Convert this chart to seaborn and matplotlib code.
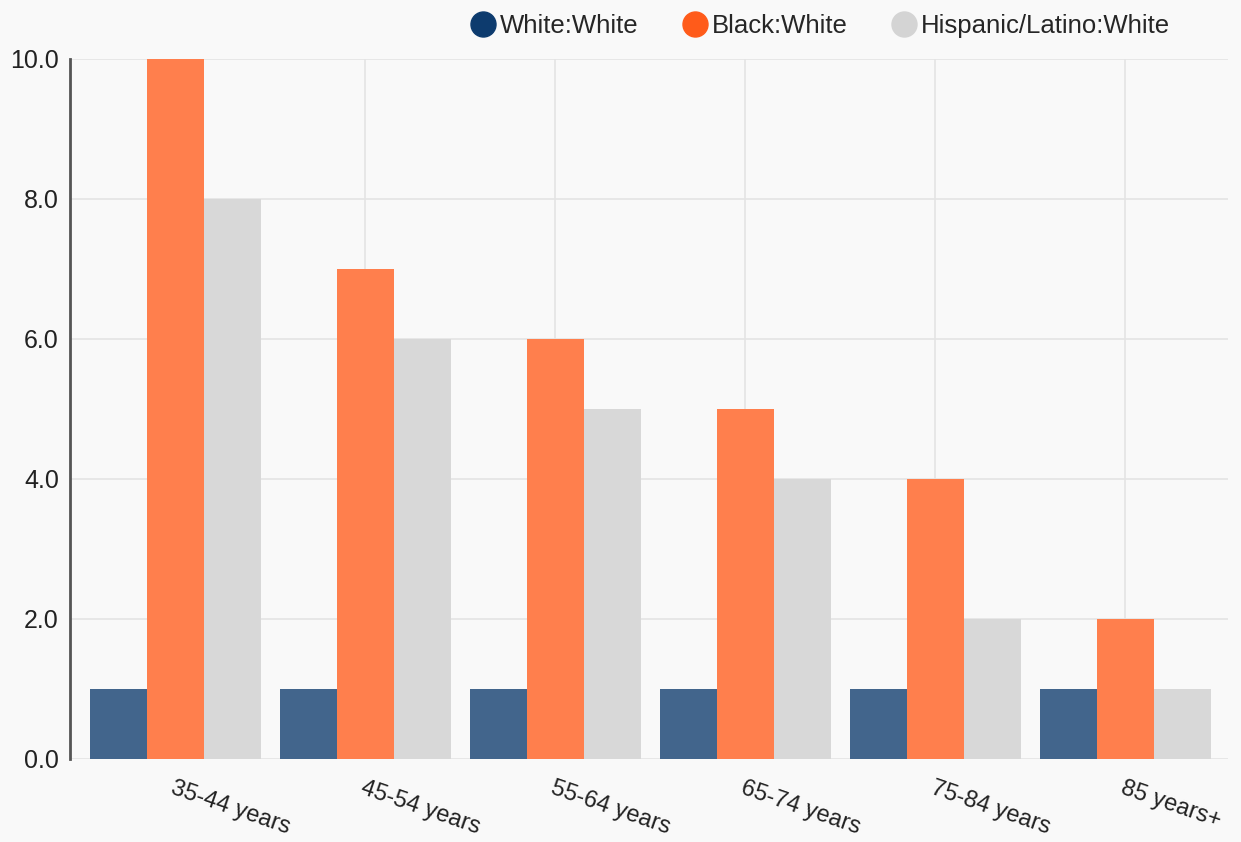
import numpy as np
import pandas as pd
import seaborn as sns
import matplotlib
matplotlib.use("Agg")
import matplotlib.pyplot as plt
from matplotlib.lines import Line2D

categories = ["35-44 years", "45-54 years", "55-64 years", "65-74 years", "75-84 years", "85 years+"]
series_names = ["White:White", "Black:White", "Hispanic/Latino:White"]
white_white = [1, 1, 1, 1, 1, 1]
black_white = [10, 7, 6, 5, 4, 2]
hispanic_white = [8, 6, 5, 4, 2, 1]
y_ticks = [0, 2, 4, 6, 8, 10]

legend_colors = ["#0d3b6e", "#ff5b1a", "#d4d4d4"]
bar_colors = ["#42658c", "#ff7f4d", "#d8d8d8"]

rows = []
for name, vals in zip(series_names, [white_white, black_white, hispanic_white]):
    for c, v in zip(categories, vals):
        rows.append({"age": c, "series": name, "value": v})
df = pd.DataFrame(rows)

sns.set_style("white")
plt.rcParams["font.family"] = ["Liberation Sans", "DejaVu Sans"]

W, H = 1241, 842
fig = plt.figure(figsize=(W / 100, H / 100), dpi=100)
fig.patch.set_facecolor("#f9f9f9")
ax = fig.add_axes([70 / W, 1 - 759 / H, (1228 - 70) / W, (759 - 59) / H])
ax.set_facecolor("#f9f9f9")

sns.barplot(data=df, x="age", y="value", hue="series", order=categories,
            hue_order=series_names, palette=bar_colors, width=0.9, gap=0,
            saturation=1, ax=ax, legend=False, errorbar=None, zorder=3,
            linewidth=0, edgecolor="none")

ax.set_xlim(-0.553, 5.542)
ax.set_ylim(0, 10)
ax.set_yticks(y_ticks)
ax.set_yticklabels([f"{t:.1f}" for t in y_ticks], fontsize=18, color="#222222")
ax.set_xticks(range(len(categories)))
ax.set_xticklabels(categories, rotation=-19, ha="left", va="top",
                   rotation_mode="anchor", fontsize=17, color="#222222")
ax.tick_params(axis="x", length=0, pad=13)
ax.tick_params(axis="y", length=5, width=1, color="#555555", pad=3)
ax.grid(True, color="#e4e4e4", linewidth=1.2, zorder=0)
ax.set_axisbelow(True)
ax.set_xlabel("")
ax.set_ylabel("")
for s in ["top", "right", "bottom"]:
    ax.spines[s].set_visible(False)
ax.spines["left"].set_color("#555555")
ax.spines["left"].set_linewidth(2)

handles = [Line2D([0], [0], marker="o", linestyle="", markersize=18,
                  markerfacecolor=c, markeredgecolor=c) for c in legend_colors]
fig.legend(handles, series_names, loc="center right", bbox_to_anchor=(1180 / W, 1 - 26 / H),
           ncol=3, frameon=False, fontsize=18.5, handletextpad=0.15, columnspacing=1.7,
           handlelength=1.0, borderaxespad=0)

fig.savefig("out.png", dpi=100, facecolor=fig.get_facecolor())
